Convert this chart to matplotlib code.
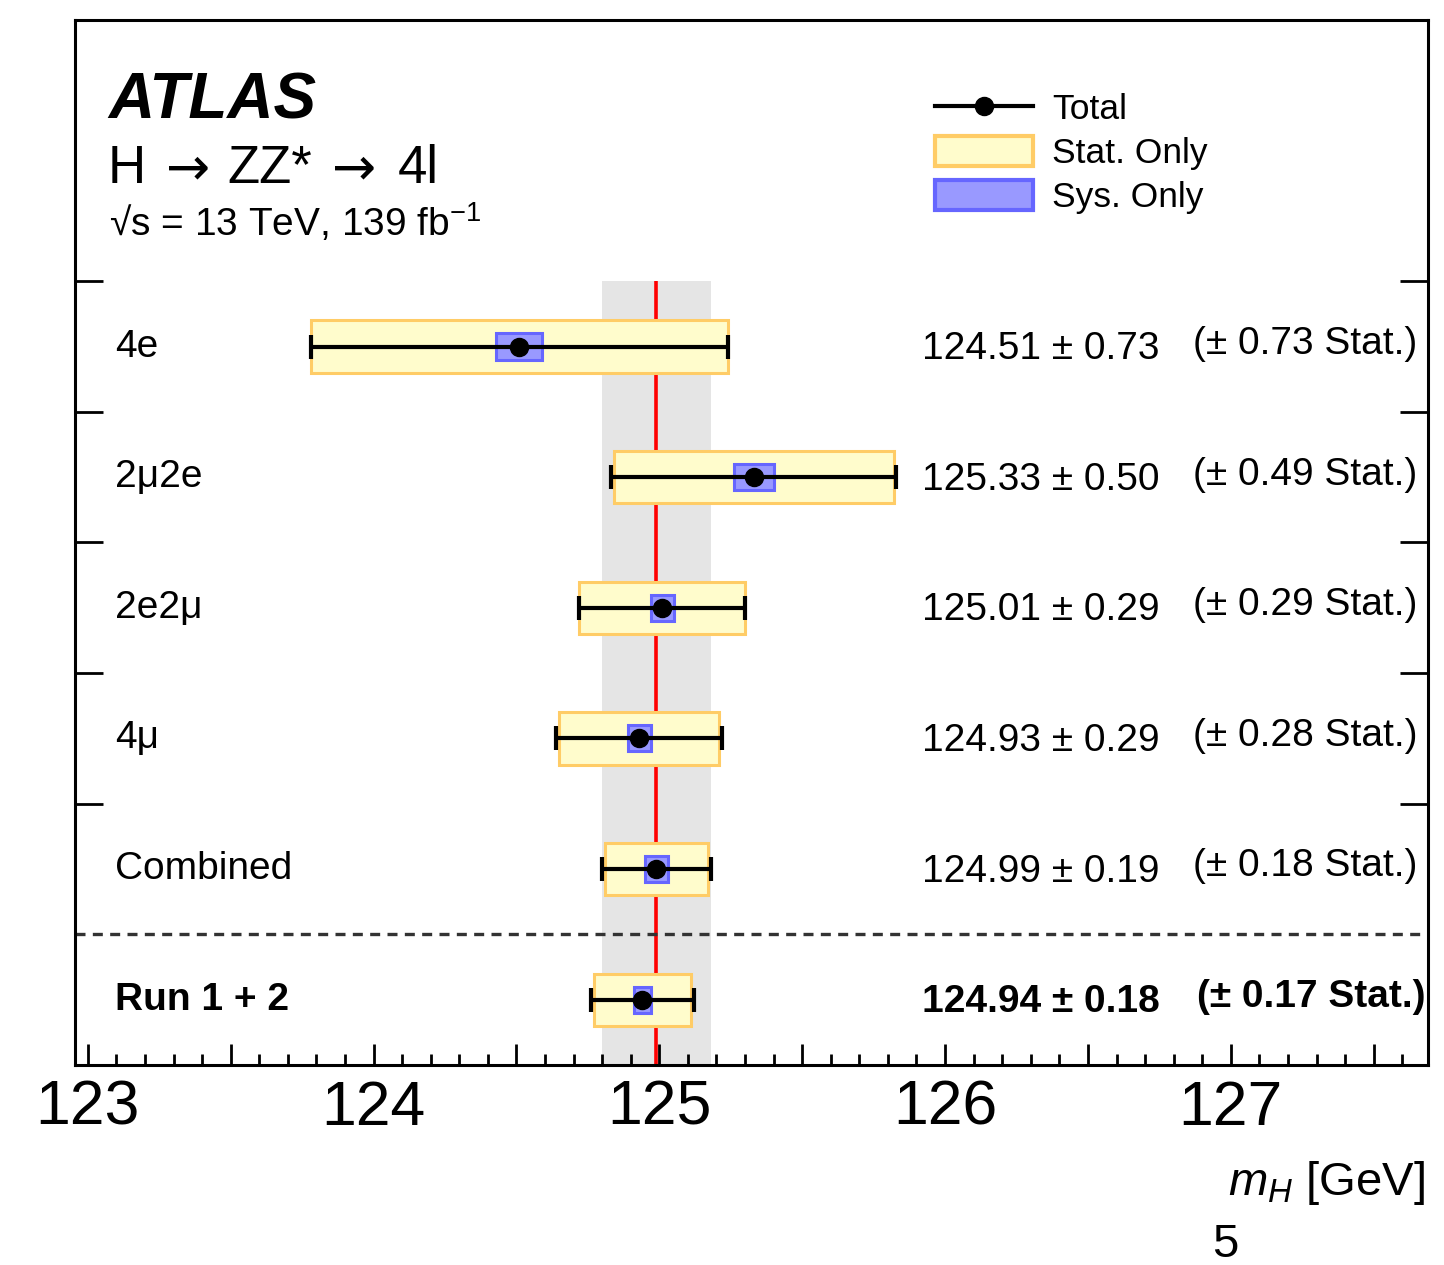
import matplotlib
matplotlib.use("Agg")
import matplotlib.pyplot as plt
from matplotlib.lines import Line2D
from matplotlib.patches import Patch
from matplotlib.ticker import MultipleLocator, FuncFormatter
import numpy as np

plt.rcParams['font.family'] = ['Liberation Sans', 'DejaVu Sans']
plt.rcParams['mathtext.fontset'] = 'custom'
plt.rcParams['mathtext.rm'] = 'Liberation Sans'
plt.rcParams['mathtext.it'] = 'Liberation Sans:italic'

# channels, top to bottom
labels = ["4e", "2μ2e", "2e2μ", "4μ", "Combined", "Run 1 + 2"]
mass = np.array([124.51, 125.33, 125.01, 124.93, 124.99, 124.94])
tot = np.array([0.73, 0.50, 0.29, 0.29, 0.19, 0.18])
stat = np.array([0.73, 0.49, 0.29, 0.28, 0.18, 0.17])
syst = np.array([0.08, 0.07, 0.04, 0.04, 0.04, 0.03])
ref_idx = 4  # "Combined" row gives the grey band / red line

n = len(labels)
ypos = np.arange(n)[::-1] + 0.5

fig = plt.figure(figsize=(14.44, 12.65), dpi=100)
ax = fig.add_axes([0.0519, 0.1581, 0.937, 0.8261])

ax.fill_betweenx([0, n], mass[ref_idx] - tot[ref_idx], mass[ref_idx] + tot[ref_idx],
                 color='#E5E5E5', lw=0, zorder=0)
ax.vlines(mass[ref_idx], 0, n, color='#FF0000', lw=2.6, zorder=1)

ax.barh(ypos, 2 * stat, left=mass - stat, height=0.4, color='#FFFCCC',
        edgecolor='#FFCC66', lw=2.2, zorder=2)
ax.barh(ypos, 2 * syst, left=mass - syst, height=0.2, color='#9999FF',
        edgecolor='#6666FF', lw=2.2, zorder=3)
ax.errorbar(mass, ypos, xerr=tot, fmt='o', color='k', ms=13, elinewidth=3,
            capsize=8.5, capthick=3, zorder=4)

ax.axhline(1, color='#333333', lw=2.4, ls=(0, (3, 2.2)), zorder=1)

# text columns
for i in range(n):
    bold = 'bold' if i == n - 1 else 'normal'
    ax.text(0.0296, ypos[i], labels[i], transform=ax.get_yaxis_transform(),
            fontsize=28, va='center', ha='left', fontweight=bold)
    ax.text(0.626, ypos[i] - 0.02, f"{mass[i]:.2f} ± {tot[i]:.2f}",
            transform=ax.get_yaxis_transform(), fontsize=28, va='center',
            ha='left', fontweight=bold)
    ax.text(0.992 if i < n - 1 else 0.998, ypos[i] + 0.02, f"(± {stat[i]:.2f} Stat.)",
            transform=ax.get_yaxis_transform(), fontsize=28, va='center',
            ha='right', fontweight=bold)

ax.text(0.025, 0.922, "ATLAS", transform=ax.transAxes, fontsize=46,
        fontweight='bold', fontstyle='italic', va='center')

# process line: pieces chained so the arrows can come from DejaVu Sans
prev = ax.text(0.024, 0.857, "H", transform=ax.transAxes, fontsize=38, va='center')
pieces = [("→", 'DejaVu Sans', 15), ("ZZ*", 'Liberation Sans', 12),
          ("→", 'DejaVu Sans', 14), ("4l", 'Liberation Sans', 16)]
for txt, fam, gap in pieces:
    prev = ax.annotate(txt, xy=(1, 0.5), xycoords=prev, xytext=(gap, 0),
                       textcoords='offset points', fontsize=38, family=fam,
                       va='center', ha='left')

ax.text(0.025, 0.806, "√s = 13 TeV, 139 fb$^{-1}$", transform=ax.transAxes,
        fontsize=28, va='center')

handles = [Line2D([], [], color='k', lw=3, marker='o', ms=13),
           Patch(facecolor='#FFFCCC', edgecolor='#FFCC66', lw=3),
           Patch(facecolor='#9999FF', edgecolor='#6666FF', lw=3)]
ax.legend(handles, ["Total", "Stat. Only", "Sys. Only"], loc='upper left',
          bbox_to_anchor=(0.636, 0.931), frameon=False, fontsize=25.5,
          borderpad=0, borderaxespad=0, handlelength=2.75, handleheight=0.9,
          handletextpad=0.55, labelspacing=0.29)

ax.set_xlim(122.955, 127.69)
ax.set_ylim(0, 8)
ax.xaxis.set_major_locator(MultipleLocator(0.5))
ax.xaxis.set_minor_locator(MultipleLocator(0.1))
ax.xaxis.set_major_formatter(FuncFormatter(
    lambda v, p: f"{v:.0f}" if abs(v - round(v)) < 1e-6 else ""))
ax.tick_params(axis='x', which='major', direction='in', length=15, width=2,
               labelsize=45, pad=10, top=False)
ax.tick_params(axis='x', which='minor', direction='in', length=8, width=2, top=False)
ax.set_yticks([2, 3, 4, 5, 6])
ax.tick_params(axis='y', direction='in', length=20, width=2, left=True, right=True,
               labelleft=False)
for s in ax.spines.values():
    s.set_linewidth(2.2)

ax.text(0.998, -0.113, r"$m_H$ [GeV]", transform=ax.transAxes, fontsize=34,
        ha='right', va='center')
fig.text(1225 / 1444, 1 - 1245 / 1265, "5", fontsize=34, ha='center', va='center')

fig.savefig("out.png", dpi=100)
